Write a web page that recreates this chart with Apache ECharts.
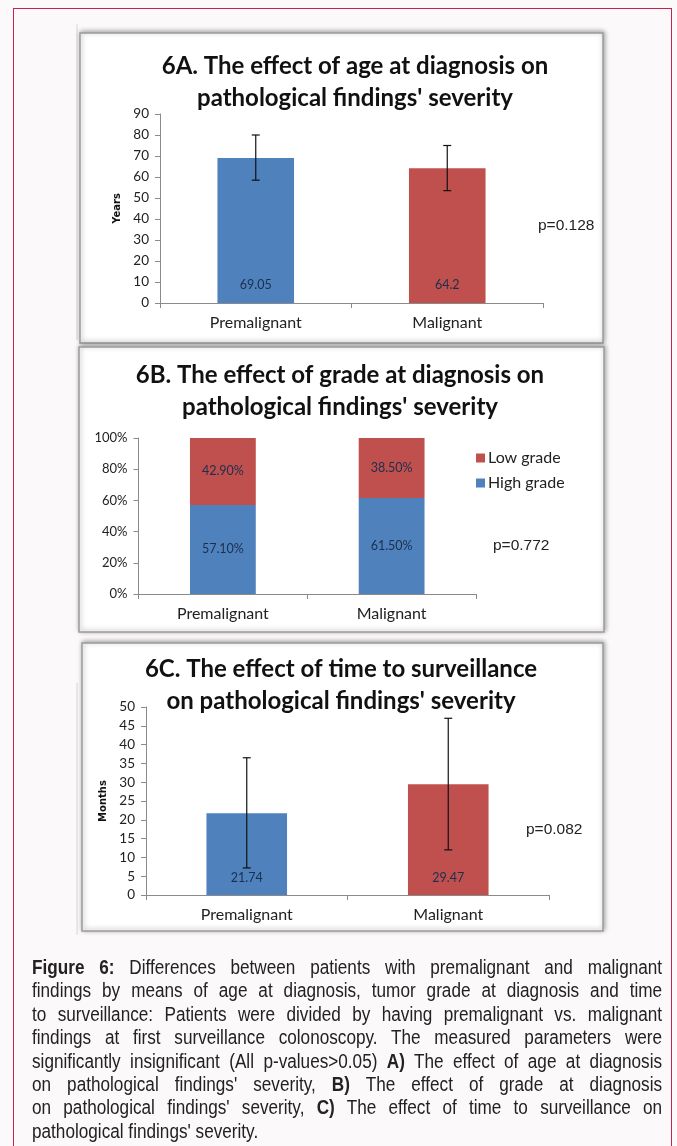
<!DOCTYPE html>
<html>
<head>
<meta charset="utf-8">
<script src="https://cdn.jsdelivr.net/npm/echarts@6/dist/echarts.min.js"></script>
<style>
  html, body { margin: 0; padding: 0; background: #fbf9fa; }
  #frame { position: absolute; left: 13px; top: 8px; width: 659px; height: 1200px; border: 1.5px solid #c8234e; box-sizing: border-box; }
  #chart { position: absolute; left: 0; top: 0; width: 677px; height: 1146px; }
  #caption { position: absolute; left: 32px; top: 956px; width: 716px; transform: scaleX(0.88); transform-origin: 0 0; font-family: "Liberation Sans Narrow", "Arial Narrow", "Liberation Sans", sans-serif; font-size: 19.5px; line-height: 23.4px; color: #222; }
  #caption div { text-align: justify; text-align-last: justify; white-space: nowrap; }
  #caption div.last { text-align-last: left; }
</style>
</head>
<body>
<div id="frame"></div>
<div id="chart"></div>
<div id="caption">
  <div><b>Figure 6:</b> Differences between patients with premalignant and malignant</div>
  <div>findings by means of age at diagnosis, tumor grade at diagnosis and time</div>
  <div>to surveillance: Patients were divided by having premalignant vs. malignant</div>
  <div>findings at first surveillance colonoscopy. The measured parameters were</div>
  <div>significantly insignificant (All p-values&gt;0.05) <b>A)</b> The effect of age at diagnosis</div>
  <div>on pathological findings' severity, <b>B)</b> The effect of grade at diagnosis</div>
  <div>on pathological findings' severity, <b>C)</b> The effect of time to surveillance on</div>
  <div class="last">pathological findings' severity.</div>
</div>
<script>
const categories = ['Premalignant', 'Malignant'];

// 6A: age at diagnosis (years)
const ageMeans = [69.05, 64.2];
const ageLow = [58.5, 53.5];
const ageHigh = [80, 75];
const ageTicks = [0, 90, 10];

// 6B: grade at diagnosis (%)
const highGrade = [57.1, 61.5];
const lowGrade = [42.9, 38.5];

// 6C: time to surveillance (months)
const timeMeans = [21.74, 29.47];
const timeLow = [7.2, 12];
const timeHigh = [36.5, 47];
const timeTicks = [0, 50, 5];

const titles = [
  "6A. The effect of age at diagnosis on\npathological findings' severity",
  "6B. The effect of grade at diagnosis on\npathological findings' severity",
  "6C. The effect of time to surveillance\non pathological findings' severity"
];
const pValues = ['p=0.128', 'p=0.772', 'p=0.082'];

const BLUE = '#4f81bd';
const RED = '#c0504d';
const AXIS = '#8a8a8a';
const LABEL_DARK = '#1b2f4f';
const FONT = 'Lato, "Open Sans", sans-serif';

const chart = echarts.init(document.getElementById('chart'));

function xAxis(gridIndex) {
  return {
    type: 'category',
    gridIndex: gridIndex,
    data: categories,
    axisLine: { lineStyle: { color: AXIS, width: 1 } },
    axisTick: { show: true, length: 5, lineStyle: { color: AXIS } },
    axisLabel: { color: '#222', fontFamily: FONT, fontSize: 16, margin: 12 }
  };
}

function yAxis(gridIndex, ticks, name, fmt, size) {
  return {
    type: 'value',
    gridIndex: gridIndex,
    min: ticks[0],
    max: ticks[1],
    interval: ticks[2],
    name: name,
    nameLocation: 'middle',
    nameGap: 38,
    nameTextStyle: { fontFamily: 'DejaVu Sans, sans-serif', fontWeight: 'bold', fontSize: 10, color: '#111' },
    splitLine: { show: false },
    axisLine: { show: true, lineStyle: { color: AXIS, width: 1 } },
    axisTick: { show: true, length: 5, lineStyle: { color: AXIS } },
    axisLabel: { color: '#222', fontFamily: FONT, fontSize: size, margin: 11, formatter: fmt }
  };
}

function errorBars(gridIndex, low, high) {
  return {
    type: 'custom',
    xAxisIndex: gridIndex,
    yAxisIndex: gridIndex,
    z: 10,
    data: categories.map((c, i) => [i, low[i], high[i]]),
    renderItem: function (params, api) {
      const bottom = api.coord([api.value(0), api.value(1)]);
      const top = api.coord([api.value(0), api.value(2)]);
      const style = { stroke: '#111', lineWidth: 1.2 };
      return {
        type: 'group',
        children: [
          { type: 'line', shape: { x1: top[0], y1: top[1], x2: bottom[0], y2: bottom[1] }, style: style },
          { type: 'line', shape: { x1: top[0] - 4, y1: top[1], x2: top[0] + 4, y2: top[1] }, style: style },
          { type: 'line', shape: { x1: bottom[0] - 4, y1: bottom[1], x2: bottom[0] + 4, y2: bottom[1] }, style: style }
        ]
      };
    }
  };
}

function meanBars(gridIndex, values, dist) {
  return {
    type: 'bar',
    xAxisIndex: gridIndex,
    yAxisIndex: gridIndex,
    barWidth: '40%',
    data: values.map((v, i) => ({ value: v, itemStyle: { color: i === 0 ? BLUE : RED } })),
    label: {
      show: true,
      position: 'insideBottom',
      distance: dist,
      color: LABEL_DARK,
      fontFamily: FONT,
      fontSize: 12.5
    }
  };
}

function panel(x, y, w, h) {
  return {
    type: 'rect',
    shape: { x: x, y: y, width: w, height: h },
    style: { fill: '#fff', stroke: '#9c9c9c', lineWidth: 1.5, shadowBlur: 5, shadowColor: 'rgba(0,0,0,0.35)', shadowOffsetX: 1, shadowOffsetY: -1 },
    z: -10
  };
}

function titleText(cx, top, text) {
  return {
    type: 'text',
    x: cx,
    y: top,
    style: { text: text, fill: '#111', font: 'bold 24px ' + FONT, textAlign: 'center', lineHeight: 32 },
    z: 5
  };
}

function pText(x, y, text) {
  return {
    type: 'text',
    x: x,
    y: y,
    style: { text: text, fill: '#222', font: '15.5px "Liberation Sans", Arial, sans-serif', textVerticalAlign: 'middle' },
    z: 5
  };
}

const option = {
  animation: false,
  grid: [
    { left: 160, top: 114, width: 383, height: 189 },
    { left: 138.5, top: 438, width: 337.5, height: 156 },
    { left: 146, top: 707, width: 403, height: 188 }
  ],
  xAxis: [xAxis(0), xAxis(1), xAxis(2)],
  yAxis: [
    yAxis(0, ageTicks, 'Years', null, 13.5),
    yAxis(1, [0, 100, 20], '', '{value}%', 13),
    yAxis(2, timeTicks, 'Months', null, 13.5)
  ],
  legend: {
    orient: 'vertical',
    left: 471,
    top: 445,
    itemWidth: 9,
    itemHeight: 9,
    itemGap: 9,
    icon: 'rect',
    data: ['Low grade', 'High grade'],
    textStyle: { fontFamily: FONT, fontSize: 16, color: '#222', padding: [0, 0, 0, -2] }
  },
  series: [
    meanBars(0, ageMeans, 12),
    errorBars(0, ageLow, ageHigh),
    {
      name: 'High grade',
      type: 'bar',
      stack: 'grade',
      xAxisIndex: 1,
      yAxisIndex: 1,
      barWidth: '39%',
      itemStyle: { color: BLUE },
      data: highGrade,
      label: { show: true, position: 'inside', color: LABEL_DARK, fontFamily: FONT, fontSize: 12.5, formatter: p => p.value.toFixed(2) + '%' }
    },
    {
      name: 'Low grade',
      type: 'bar',
      stack: 'grade',
      xAxisIndex: 1,
      yAxisIndex: 1,
      barWidth: '39%',
      itemStyle: { color: RED },
      data: lowGrade,
      label: { show: true, position: 'inside', color: LABEL_DARK, fontFamily: FONT, fontSize: 12.5, formatter: p => p.value.toFixed(2) + '%' }
    },
    meanBars(2, timeMeans, 11),
    errorBars(2, timeLow, timeHigh)
  ],
  graphic: [
    { type: 'line', shape: { x1: 77, y1: 24, x2: 77, y2: 340 }, style: { stroke: '#d8d8d8', lineWidth: 1 }, z: -11 },
    { type: 'line', shape: { x1: 77, y1: 683, x2: 77, y2: 935 }, style: { stroke: '#d8d8d8', lineWidth: 1 }, z: -11 },
    panel(80, 33, 523, 310),
    panel(79, 347, 525, 285),
    panel(82, 643, 521, 288),
    titleText(355, 50, titles[0]),
    titleText(340, 359, titles[1]),
    titleText(341, 653, titles[2]),
    pText(538, 226, pValues[0]),
    pText(493, 546, pValues[1]),
    pText(526, 830, pValues[2])
  ]
};

chart.setOption(option);
</script>
</body>
</html>
